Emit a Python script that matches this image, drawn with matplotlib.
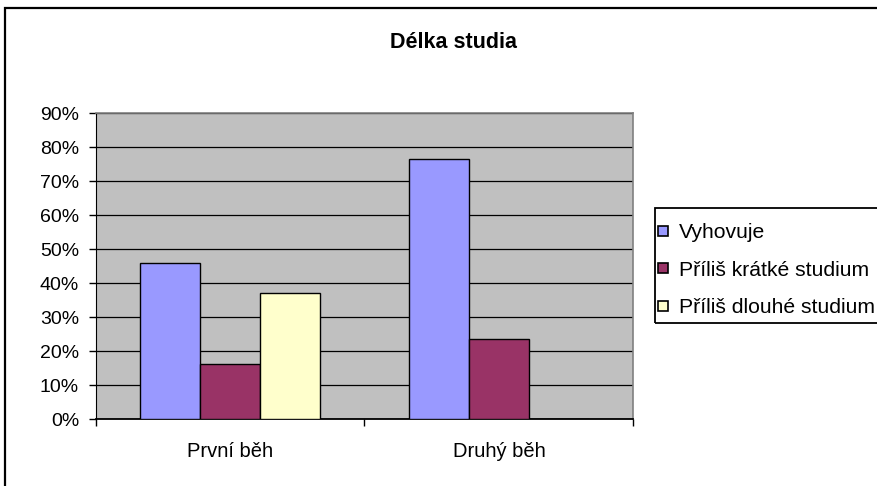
import numpy as np
import matplotlib
matplotlib.use("Agg")
import matplotlib.pyplot as plt
from matplotlib.patches import Rectangle
from matplotlib.lines import Line2D

plt.rcParams['font.family'] = ['Liberation Sans', 'DejaVu Sans']

# Data
categories = ["První běh", "Druhý běh"]
series_names = ["Vyhovuje", "Příliš krátké studium", "Příliš dlouhé studium"]
vyhovuje = [45.9, 76.5]
kratke = [16.4, 23.5]
dlouhe = [37.1, 0.0]
colors = ["#9999FF", "#993366", "#FFFFCC"]
y_ticks = [0, 10, 20, 30, 40, 50, 60, 70, 80, 90]

W, H = 877, 486
fig = plt.figure(figsize=(W / 100, H / 100), dpi=100)
fig.patch.set_facecolor("white")

# outer chart border (cut at right/bottom)
fig.patches.append(Rectangle((5 / W, -0.1), 1.2, 1.1 - 8 / H,
                             transform=fig.transFigure, fill=False,
                             edgecolor="black", linewidth=1.6))

ax = fig.add_axes([95.7 / W, 1 - 419.3 / H, (633.3 - 95.7) / W, (419.3 - 113.3) / H])
ax.set_facecolor("#C0C0C0")

x = np.arange(len(categories))
width = 0.2232
series = [vyhovuje, kratke, dlouhe]
for i, (vals, name, col) in enumerate(zip(series, series_names, colors)):
    ax.bar(x + (i - 1) * width, vals, width, color=col, edgecolor="black",
           linewidth=1.0, label=name, zorder=3)

ax.set_xlim(-0.5, 1.5)
ax.set_ylim(0, 90)
ax.set_yticks(y_ticks)
ax.set_yticklabels([f"{v}%" for v in y_ticks])
ax.yaxis.grid(True, color="black", linewidth=0.9, zorder=1)
ax.set_axisbelow(True)

ax.set_xticks(x)
ax.set_xticklabels(categories)
ax.set_xticks([-0.5, 0.5, 1.5], minor=True)
ax.tick_params(axis="x", which="major", length=0, pad=16, labelsize=14.5)
ax.tick_params(axis="x", which="minor", length=5, width=1, direction="out")
ax.tick_params(axis="y", length=5, width=1, direction="out", pad=7, labelsize=14)

ax.spines["left"].set_color("black")
ax.spines["bottom"].set_color("black")
ax.spines["bottom"].set_linewidth(1.3)
ax.spines["top"].set_color("#808080")
ax.spines["right"].set_color("#808080")
ax.spines["top"].set_linewidth(1.2)
ax.spines["right"].set_linewidth(1.2)

fig.text(454 / W, 1 - 43 / H, "Délka studia", ha="center", va="center",
         fontsize=15.5, fontweight="bold")

# legend frame drawn separately (runs off the right edge)
fig.patches.append(Rectangle((654.7 / W, 1 - 322.7 / H), 0.5, (322.7 - 208) / H,
                             transform=fig.transFigure, fill=False,
                             edgecolor="black", linewidth=1.3))
handles = [Line2D([], [], marker="s", linestyle="none", markersize=7.5,
                  markerfacecolor=c, markeredgecolor="black", markeredgewidth=1.2)
           for c in colors]
leg = fig.legend(handles, series_names, loc="upper left",
                 bbox_to_anchor=(653 / W, 1 - 223 / H),
                 bbox_transform=fig.transFigure, borderaxespad=0, borderpad=0,
                 fontsize=15.2, frameon=False,
                 handlelength=0.9, handletextpad=0.35, labelspacing=0.88)

fig.savefig("out.png", dpi=100)
